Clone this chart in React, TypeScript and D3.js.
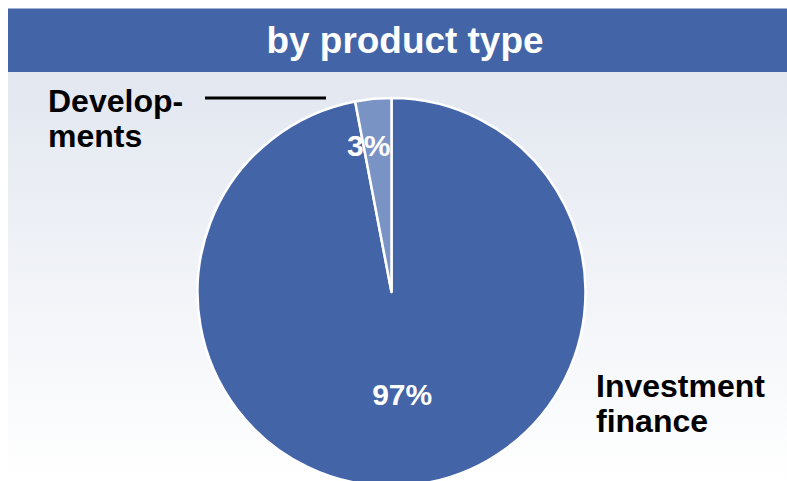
import React from "react";
import * as d3 from "d3";

const categories = ["Investment finance", "Developments"];
const values = [97, 3];
const valueLabels = ["97%", "3%"];
const title = "by product type";

const W = 787;
const H = 481;
const FONT = "'Liberation Sans', Arial, sans-serif";

export default function App() {
  const cx = 391.5;
  const cy = 292;
  const r = 194;
  const data = categories.map((c, i) => ({ name: c, value: values[i], label: valueLabels[i] }));
  const pie = d3.pie<any>().sort(null).value((d: any) => d.value);
  const arcs = pie(data);
  const arc = d3.arc<any>().innerRadius(0).outerRadius(r);
  const colors = d3.scaleOrdinal<string, string>().domain(categories).range(["#4364A7", "#7A93C5"]);
  const labelRadius = [0.53, 0.76];
  const labelDx = [1, -9];

  return (
    <svg width={W} height={H} style={{ position: "absolute", left: 0, top: 0, display: "block" }}>
      <defs>
        <linearGradient id="bg" x1="0" y1="0" x2="0" y2="1">
          <stop offset="0%" stopColor="#E2E7F0" />
          <stop offset="100%" stopColor="#FFFFFF" />
        </linearGradient>
      </defs>
      <rect x={0} y={0} width={W} height={H} fill="#FFFFFF" />
      <rect x={8} y={72} width={W - 8} height={H - 72} fill="url(#bg)" />
      <rect x={8} y={8.5} width={W - 8} height={63.5} fill="#4364A7" />
      <text x={405} y={53} textAnchor="middle" fill="#FFFFFF" fontFamily={FONT} fontWeight="bold" fontSize={37} textLength={277} lengthAdjust="spacingAndGlyphs">
        {title}
      </text>
      <g transform={`translate(${cx},${cy})`}>
        {arcs.map((a, i) => (
          <path key={i} d={arc(a) as string} fill={colors(a.data.name)} stroke="#FFFFFF" strokeWidth={2.5} strokeLinejoin="round" />
        ))}
        {arcs.map((a, i) => {
          const mid = (a.startAngle + a.endAngle) / 2;
          const rr = r * labelRadius[i];
          const x = Math.sin(mid) * rr + labelDx[i];
          const y = -Math.cos(mid) * rr;
          return (
            <text key={"l" + i} x={x} y={y} dy="0.36em" textAnchor="middle" fill="#FFFFFF" fontFamily={FONT} fontWeight="bold" fontSize={30}>
              {a.data.label}
            </text>
          );
        })}
      </g>
      <line x1={205} y1={98} x2={326} y2={98} stroke="#000000" strokeWidth={3} />
      <text x={48} fontFamily={FONT} fontWeight="bold" fontSize={32} fill="#000000">
        <tspan x={48} y={112}>Develop-</tspan>
        <tspan x={48} y={147}>ments</tspan>
      </text>
      <text fontFamily={FONT} fontWeight="bold" fontSize={32} fill="#000000">
        <tspan x={596} y={397}>Investment</tspan>
        <tspan x={596} y={432}>finance</tspan>
      </text>
    </svg>
  );
}
